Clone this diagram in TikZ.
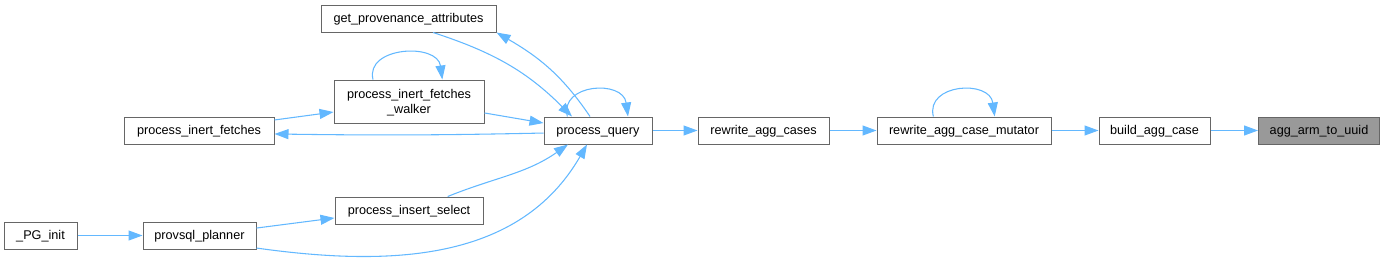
\documentclass[tikz,border=0pt]{standalone}
\usepackage{fontspec}
\setmainfont{Liberation Sans}
\usetikzlibrary{arrows.meta}
\definecolor{edgeblue}{HTML}{63B8FF}
\definecolor{boxline}{HTML}{666666}
\definecolor{boxgray}{HTML}{999999}

\begin{document}
\begin{tikzpicture}[x=0.75pt, y=-0.75pt,
    fn/.style={draw=boxline, rectangle, line width=0.75pt, fill=white, minimum height=20.25pt, inner sep=0pt, text height=7.5pt, text depth=1.5pt, align=center, font=\fontsize{9.5}{11.25}\selectfont},
    edge/.style={-{Triangle[length=10.5pt, width=7.5pt]}, draw=edgeblue, line width=0.8pt}
]
\useasboundingbox (0,0) rectangle (1384,265);

% --- FUNCTION BOXES ---
\node[fn, minimum width=131.25pt] (gpa) at (408.5,18.5) {get\_provenance\_attributes};
\node[fn, minimum width=112.5pt, minimum height=32.25pt, text height=18.75pt] (walker) at (409,101.5) {process\_inert\_fetches\\\_walker};
\node[fn, minimum width=112.5pt] (pif) at (199,130.5) {process\_inert\_fetches};
\node[fn, minimum width=81pt] (pq) at (598,130.5) {process\_query};
\node[fn, minimum width=111pt] (pis) at (409,210.5) {process\_insert\_select};
\node[fn, minimum width=54.75pt] (pg) at (40.5,235.5) {\_PG\_init};
\node[fn, minimum width=84.75pt] (planner) at (199.5,235.5) {provsql\_planner};

\node[fn, minimum width=98.25pt] (rac) at (763.5,130.5) {rewrite\_agg\_cases};
\node[fn, minimum width=130.5pt] (ram) at (964,130.5) {rewrite\_agg\_case\_mutator};
\node[fn, minimum width=83.25pt] (bac) at (1154.5,130.5) {build\_agg\_case};
\node[fn, minimum width=90.75pt, fill=boxgray] (aau) at (1319,130.5) {agg\_arm\_to\_uuid};

% --- MAIN CHAIN ---
\draw[edge] (bac) -- (aau);
\draw[edge] (ram) -- (bac);
\draw[edge] (rac) -- (ram);
\draw[edge] (pq) -- (rac);
\draw[edge] (pg) -- (planner);

% --- SELF CALLS ---
\draw[edge] ([xshift=-23pt]ram.north) .. controls +(-8,-33) and +(-5,-37) .. ([xshift=23pt]ram.north);
\draw[edge] ([xshift=-23pt]pq.north) .. controls +(-8,-33) and +(-5,-37) .. ([xshift=22.5pt]pq.north);
\draw[edge] ([xshift=-27pt]walker.north) .. controls +(-8,-33) and +(-5,-37) .. ([xshift=25pt]walker.north);

% --- CALLERS OF PROCESS_QUERY ---
\draw[edge] ([xshift=18.4pt]gpa.south) to[out=-18, in=135] ([xshift=-19.5pt]pq.north);
\draw[edge] ([xshift=-6pt]pq.north) to[out=124, in=-30] (gpa.south east);
\draw[edge] ([yshift=-8.6pt]walker.east) -- ([yshift=5.6pt]pq.west);
\draw[edge] ([yshift=-1.9pt]pq.west) to[bend left=1] ([yshift=-2.6pt]pif.east);
\draw[edge] ([yshift=7.9pt]pif.east) -- ([yshift=-7.9pt]walker.west);
\draw[edge] ([xshift=29pt]pis.north) to[out=22, in=-145] ([xshift=-22.5pt]pq.south);
\draw[edge] ([yshift=5.6pt]planner.east) -- ([yshift=-5.6pt]pis.west);
\draw[edge] ([yshift=-9.4pt]planner.east) to[out=-8, in=-120] ([xshift=-8.25pt]pq.south);
\end{tikzpicture}
\end{document}
